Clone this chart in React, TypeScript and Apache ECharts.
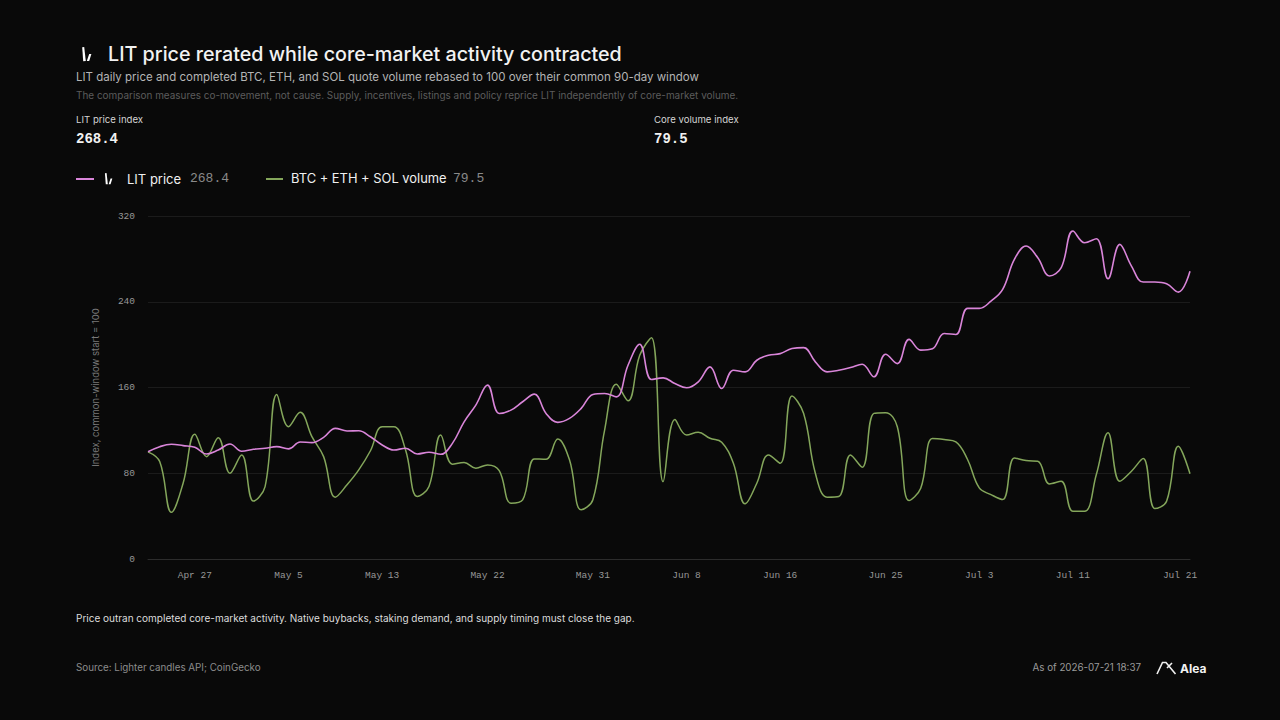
import React, { useEffect, useRef } from "react";
import * as echarts from "echarts";

// ---------- data ----------
const MONTH_NAMES = ["Jan", "Feb", "Mar", "Apr", "May", "Jun", "Jul", "Aug", "Sep", "Oct", "Nov", "Dec"];
const MONTH_LENGTHS = [31, 28, 31, 30, 31, 30, 31, 31, 30, 31, 30, 31];
const START_MONTH = 3; // Apr
const START_DAY = 23;
const DAY_COUNT = 90;

function buildDates(): string[] {
  const out: string[] = [];
  let m = START_MONTH;
  let d = START_DAY;
  for (let i = 0; i < DAY_COUNT; i++) {
    out.push(`${MONTH_NAMES[m]} ${d}`);
    d += 1;
    if (d > MONTH_LENGTHS[m]) {
      d = 1;
      m += 1;
    }
  }
  return out;
}
const DATES = buildDates();

const X_TICK_LABELS = ["Apr 27", "May 5", "May 13", "May 22", "May 31", "Jun 8", "Jun 16", "Jun 25", "Jul 3", "Jul 11", "Jul 21"];
const Y_MIN = 0;
const Y_MAX = 320;
const Y_STEP = 80;

const LIT_PRICE = [
  100, 104.8, 107, 105.8, 104.2, 98, 101.7, 107.3, 100.5, 102.4,
  103.3, 104.8, 102.7, 109.2, 108.6, 113.5, 121.9, 119.4, 119.7, 114,
  106.4, 101.7, 103.3, 98, 99.6, 97.7, 107.9, 128, 143.6, 162.2,
  135.8, 138.9, 146.7, 153.8, 135.8, 127.5, 131.2, 140.5, 153.5, 154.4,
  151.3, 180.8, 200.3, 167.5, 169, 163.7, 159.7, 165.3, 179.2, 159.1,
  176.1, 174.6, 185.4, 190.1, 191.6, 196.3, 197.2, 183.9, 174.6, 176.1,
  178.6, 181.7, 170, 191, 182.3, 204.9, 194.9, 196.1, 210.4, 209.5,
  233.8, 233.8, 240.6, 251.5, 279.5, 292, 281.1, 264, 271.8, 306,
  295.1, 298.8, 261.5, 293.5, 273.3, 258.4, 258.4, 256.8, 249, 268.4,
];

const CORE_VOLUME = [
  100, 90.9, 43.5, 70.7, 116.3, 95.5, 113.2, 80, 97, 54,
  67.6, 153.5, 123.4, 136.8, 114.1, 95.5, 57.7, 69.2, 83.1, 101,
  123.4, 123.4, 101.7, 58.3, 67.6, 115.7, 88.4, 90, 84.7, 87.8,
  82.5, 52.1, 55.2, 93.4, 93.1, 112, 92.5, 45.9, 55.2, 120.3,
  163.1, 147.6, 190, 206.5, 72.2, 130.2, 115.7, 118.2, 112.6, 108.9,
  89.3, 51.5, 70.7, 97, 89.3, 152, 135.8, 80, 57.7, 58.3,
  97, 85.6, 135.8, 136.5, 123.4, 54.5, 66, 112.4, 111.4, 109.3,
  92.8, 66.3, 60.1, 55.4, 94.3, 91.8, 91.2, 70, 72.5, 44.5,
  44.5, 78.8, 117.7, 72.5, 81.9, 93.7, 47, 53.8, 105.2, 79.5,
];

const LIT_LAST = "268.4";
const VOL_LAST = "79.5";

// ---------- styles ----------
const BG = "#090909";
const PINK = "#d985d9";
const GREEN = "#84a65b";
const SANS = 'Inter, "Noto Sans", sans-serif';
const MONO = '"Liberation Mono", "DejaVu Sans Mono", monospace';

function txt(text: string, x: number, y: number, size: number, fill: string, opts: any = {}) {
  return {
    type: "text",
    x,
    y,
    silent: true,
    style: {
      text,
      fill,
      fontSize: size,
      fontFamily: opts.family || SANS,
      fontWeight: opts.weight || "normal",
      align: opts.align || "left",
      verticalAlign: "middle",
    },
  };
}

function litLogo(x: number, y: number, s: number) {
  return {
    type: "group",
    x,
    y,
    scaleX: s,
    scaleY: s,
    silent: true,
    children: [
      { type: "polygon", shape: { points: [[1.2, 0.2], [3.2, 0], [4.8, 14], [2.2, 14.2]] }, style: { fill: "#ffffff" } },
      { type: "polygon", shape: { points: [[8.2, 7], [10.4, 7], [8.2, 14], [5.8, 14]] }, style: { fill: "#ffffff" } },
    ],
  };
}

export default function App() {
  const ref = useRef<HTMLDivElement>(null);

  useEffect(() => {
    document.body.style.margin = "0";
    document.body.style.background = BG;
    const chart = echarts.init(ref.current!, null, { renderer: "svg" });
    const lastDate = DATES[DATES.length - 1];

    const option: any = {
      animation: false,
      backgroundColor: BG,
      grid: { left: 148, right: 90, top: 216, bottom: 161, containLabel: false },
      xAxis: {
        type: "category",
        data: DATES,
        boundaryGap: false,
        axisLine: { show: true, lineStyle: { color: "#2c2c2c", width: 1 } },
        axisTick: { show: false },
        splitLine: { show: false },
        axisLabel: {
          interval: (_i: number, v: string) => X_TICK_LABELS.includes(v),
          color: "#979797",
          fontFamily: MONO,
          fontSize: 9.5,
          margin: 11,
          formatter: (v: string) => (v === lastDate ? `{last|${v}}` : v),
          rich: {
            last: { color: "#979797", fontFamily: MONO, fontSize: 9.5, padding: [0, 20, 0, 0] },
          },
        },
      },
      yAxis: {
        type: "value",
        min: Y_MIN,
        max: Y_MAX,
        interval: Y_STEP,
        name: "Index, common-window start = 100",
        nameLocation: "middle",
        nameRotate: 90,
        nameGap: 48,
        nameTextStyle: { color: "#7a7a7a", fontFamily: SANS, fontSize: 9.5 },
        axisLine: { show: false },
        axisTick: { show: false },
        axisLabel: { color: "#979797", fontFamily: MONO, fontSize: 9.5, margin: 13 },
        splitLine: { show: true, lineStyle: { color: "#1b1b1b", width: 1 } },
      },
      series: [
        {
          name: "BTC + ETH + SOL volume",
          type: "line",
          data: CORE_VOLUME,
          showSymbol: false,
          smooth: 0.4,
          lineStyle: { color: GREEN, width: 1.5 },
          itemStyle: { color: GREEN },
          z: 2,
        },
        {
          name: "LIT price",
          type: "line",
          data: LIT_PRICE,
          showSymbol: false,
          smooth: 0.4,
          lineStyle: { color: PINK, width: 1.6 },
          itemStyle: { color: PINK },
          z: 3,
        },
      ],
      graphic: [
        litLogo(81, 47, 1),
        txt("LIT price rerated while core-market activity contracted", 108, 54, 19.7, "#f2f2f2", { weight: 500 }),
        txt("LIT daily price and completed BTC, ETH, and SOL quote volume rebased to 100 over their common 90-day window", 76, 77, 11.5, "#b5b5b5"),
        txt("The comparison measures co-movement, not cause. Supply, incentives, listings and policy reprice LIT independently of core-market volume.", 76, 95, 9.95, "#5c5c5c"),
        txt("LIT price index", 76, 119, 9.6, "#d4d4d4"),
        txt(LIT_LAST, 76, 139, 14, "#f2f2f2", { family: MONO, weight: "bold" }),
        txt("Core volume index", 654, 119, 9.6, "#d4d4d4"),
        txt(VOL_LAST, 654, 139, 14, "#f2f2f2", { family: MONO, weight: "bold" }),
        // legend
        { type: "line", silent: true, shape: { x1: 76, y1: 179, x2: 94, y2: 179 }, style: { stroke: PINK, lineWidth: 2 } },
        litLogo(104, 173, 0.8),
        txt("LIT price", 127, 178.5, 13, "#f0f0f0"),
        txt(LIT_LAST, 190, 178.5, 13, "#8a8a8a", { family: MONO }),
        { type: "line", silent: true, shape: { x1: 266, y1: 179, x2: 283, y2: 179 }, style: { stroke: GREEN, lineWidth: 2 } },
        txt("BTC + ETH + SOL volume", 291, 178.5, 12.9, "#f0f0f0"),
        txt(VOL_LAST, 453, 178.5, 13, "#8a8a8a", { family: MONO }),
        // footer
        txt("Price outran completed core-market activity. Native buybacks, staking demand, and supply timing must close the gap.", 76, 618, 10, "#dcdcdc"),
        txt("Source: Lighter candles API; CoinGecko", 76, 667, 9.8, "#8c8c8c"),
        txt("As of 2026-07-21 18:37", 1141, 667, 9.8, "#9a9a9a", { align: "right" }),
        {
          type: "polyline",
          silent: true,
          shape: { points: [[1157, 674], [1162.5, 662.5], [1166, 662.5], [1175.5, 674]] },
          style: { stroke: "#f0f0f0", lineWidth: 1.6, fill: null },
        },
        {
          type: "line",
          silent: true,
          shape: { x1: 1167, y1: 668, x2: 1172, y2: 663 },
          style: { stroke: "#f0f0f0", lineWidth: 1.6 },
        },
        txt("Alea", 1180, 668.5, 12, "#f2f2f2", { weight: "bold" }),
      ],
    };

    chart.setOption(option);
    return () => chart.dispose();
  }, []);

  return (
    <div
      ref={ref}
      style={{ position: "fixed", left: 0, top: 0, width: 1280, height: 720, background: BG }}
    />
  );
}
